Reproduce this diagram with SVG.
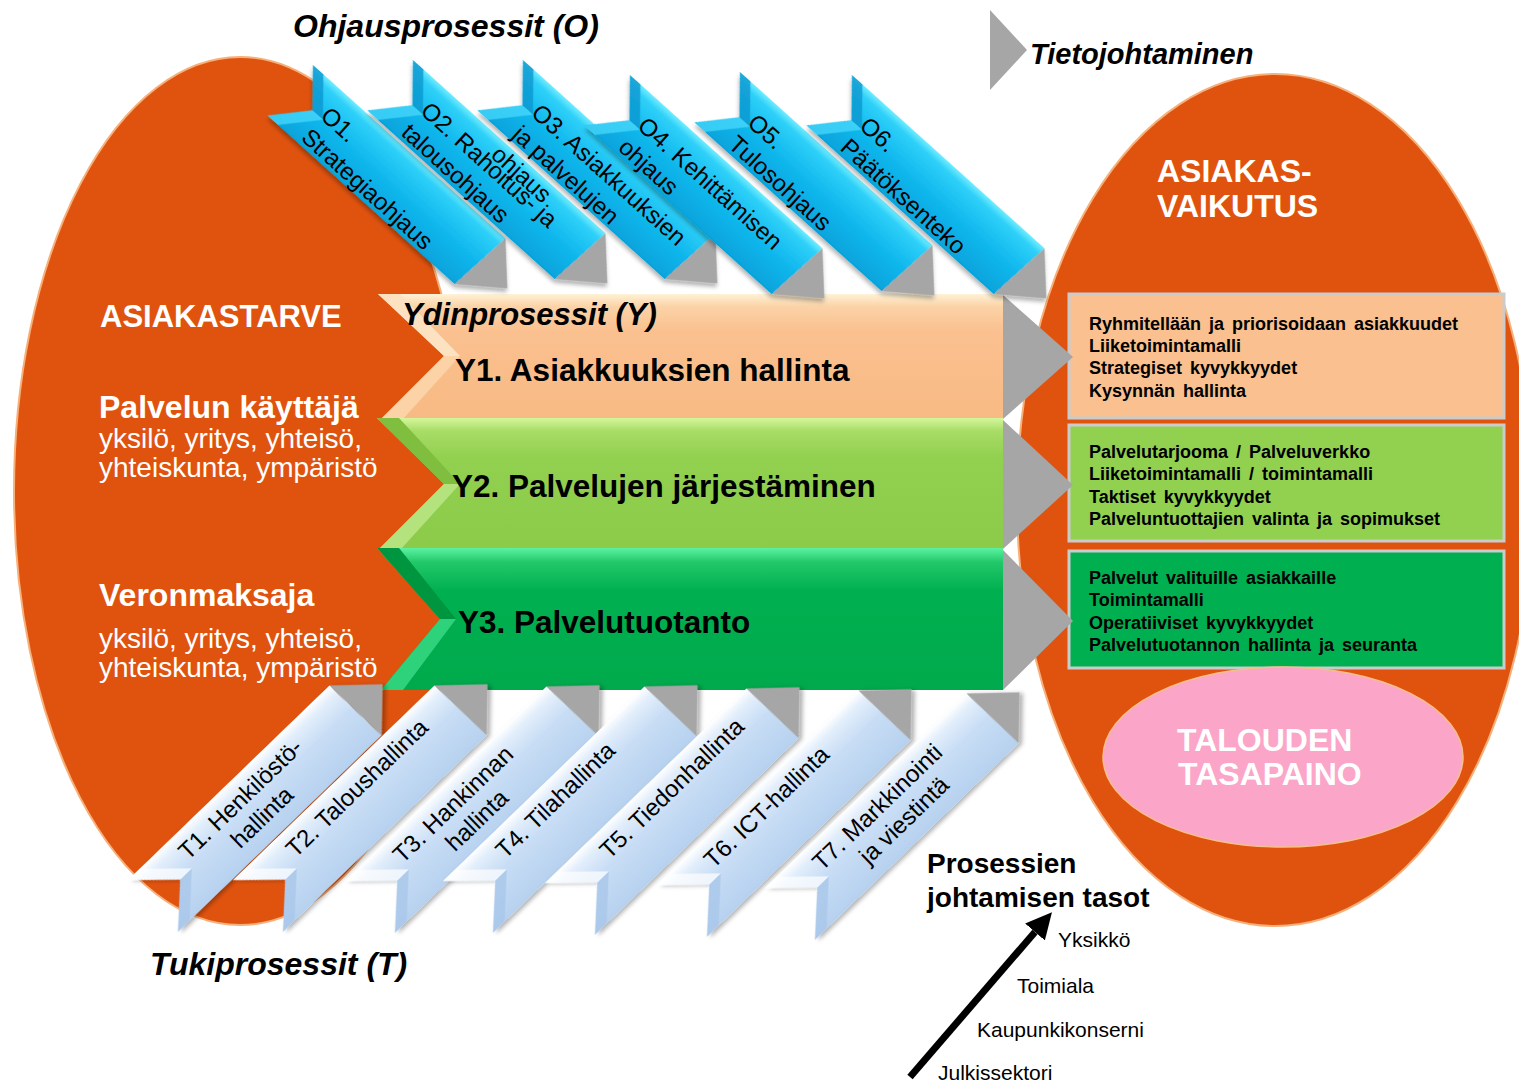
<svg xmlns="http://www.w3.org/2000/svg" width="1519" height="1082" viewBox="0 0 1519 1082">
<defs>
<style>
text{font-family:"Liberation Sans",Arial,sans-serif}
.ttl{font-size:31px;font-weight:bold;font-style:italic;fill:#000}
.wb{font-size:32px;font-weight:bold;fill:#fff}
.wr{font-size:28px;fill:#fff}
.yt{font-size:31.5px;font-weight:bold;fill:#000}
.bx{font-size:18px;font-weight:bold;fill:#000}
.ot{font-size:24px;fill:#000}
.tt{font-size:24px;fill:#000;text-anchor:middle}
.lv{font-size:21px;fill:#000}
.pj{font-size:28px;font-weight:bold;fill:#000}
.blob{fill:#E0530F;stroke:#F6B07A;stroke-width:2}
.tipg{fill:#A6A6A6}
.box{stroke:#CBCBCB;stroke-width:3}
</style>
<linearGradient id="gO" x1="0" y1="0" x2="0" y2="1">
<stop offset="0" stop-color="#6FECFF"/>
<stop offset="0.12" stop-color="#2ED0F8"/>
<stop offset="0.5" stop-color="#12B9EE"/>
<stop offset="1" stop-color="#06A3DC"/>
</linearGradient>
<linearGradient id="gT" x1="0" y1="0" x2="0" y2="1">
<stop offset="0" stop-color="#FFFFFF"/>
<stop offset="0.15" stop-color="#E2EEFB"/>
<stop offset="0.45" stop-color="#C8DDF5"/>
<stop offset="1" stop-color="#B6D1EF"/>
</linearGradient>
<linearGradient id="gY1" x1="0" y1="0" x2="0" y2="1">
<stop offset="0" stop-color="#FFF2D6"/>
<stop offset="0.1" stop-color="#FBD3A7"/>
<stop offset="0.3" stop-color="#FAC08F"/>
<stop offset="1" stop-color="#F8BA84"/>
</linearGradient>
<linearGradient id="gY2" x1="0" y1="0" x2="0" y2="1">
<stop offset="0" stop-color="#D4F79C"/>
<stop offset="0.1" stop-color="#A8DC66"/>
<stop offset="0.3" stop-color="#92D050"/>
<stop offset="1" stop-color="#8CCB4A"/>
</linearGradient>
<linearGradient id="gY3" x1="0" y1="0" x2="0" y2="1">
<stop offset="0" stop-color="#5CF2A2"/>
<stop offset="0.1" stop-color="#22C86A"/>
<stop offset="0.3" stop-color="#00B050"/>
<stop offset="1" stop-color="#00AA4C"/>
</linearGradient>
<filter id="sh" x="-10%" y="-20%" width="130%" height="150%">
<feDropShadow dx="2" dy="3" stdDeviation="2" flood-color="#000" flood-opacity="0.3"/>
</filter>
<marker id="ah" viewBox="0 0 10 10" refX="0" refY="5" markerWidth="26" markerHeight="26" markerUnits="userSpaceOnUse" orient="auto">
<path d="M0,0 L10,5 L0,10 z" fill="#000"/>
</marker>
<!-- control process banner, drawn along local x axis -->
<g id="oShape">
<polygon points="0,0 259,0 252,68 0,68 30,34" fill="url(#gO)"/>
<polygon points="0,0 14,0 44,34 30,34" fill="#0C97CF" opacity="0.8"/>
<polygon points="30,34 44,34 14,68 0,68" fill="#45D6FA" opacity="0.8"/>
<polygon points="259,0 294,36 252,68" class="tipg"/>
</g>
<!-- support process banner -->
<g id="tShape">
<polygon points="0,0 280,0 283,72 0,72 38,36" fill="url(#gT)"/>
<polygon points="0,0 16,0 54,36 38,36" fill="#FFFFFF" opacity="0.7"/>
<polygon points="38,36 54,36 16,72 0,72" fill="#A9C7EA" opacity="0.8"/>
<polygon points="280,0 319,36 283,72" class="tipg"/>
</g>
</defs>

<rect width="1519" height="1082" fill="#fff"/>

<!-- customer need -->
<g id="asiakastarve">
<ellipse class="blob" cx="240" cy="491" rx="226" ry="434"/>
<text class="wb" x="100" y="327" style="font-size:31px">ASIAKASTARVE</text>
<text class="wb" x="99" y="418">Palvelun käyttäjä</text>
<text class="wr"><tspan x="99" y="448">yksilö, yritys, yhteisö,</tspan><tspan x="99" y="477">yhteiskunta, ympäristö</tspan></text>
<text class="wb" x="99" y="606">Veronmaksaja</text>
<text class="wr"><tspan x="99" y="648">yksilö, yritys, yhteisö,</tspan><tspan x="99" y="677">yhteiskunta, ympäristö</tspan></text>
</g>

<!-- customer impact -->
<g id="asiakasvaikutus">
<ellipse class="blob" cx="1275" cy="500" rx="258" ry="426"/>
<text class="wb"><tspan x="1157" y="182">ASIAKAS-</tspan><tspan x="1157" y="217">VAIKUTUS</tspan></text>
</g>

<g id="r1">
<rect class="box" x="1069" y="294" width="435" height="124" fill="#FAC08F"/>
<text class="bx" word-spacing="3"><tspan x="1089" y="330">Ryhmitellään ja priorisoidaan asiakkuudet</tspan><tspan x="1089" y="352">Liiketoimintamalli</tspan><tspan x="1089" y="374">Strategiset kyvykkyydet</tspan><tspan x="1089" y="397">Kysynnän hallinta</tspan></text>
</g>
<g id="r2">
<rect class="box" x="1069" y="425" width="435" height="116" fill="#92D050"/>
<text class="bx" word-spacing="3"><tspan x="1089" y="458">Palvelutarjooma / Palveluverkko</tspan><tspan x="1089" y="480">Liiketoimintamalli / toimintamalli</tspan><tspan x="1089" y="503">Taktiset kyvykkyydet</tspan><tspan x="1089" y="525">Palveluntuottajien valinta ja sopimukset</tspan></text>
</g>
<g id="r3">
<rect class="box" x="1069" y="551" width="435" height="117" fill="#00B050"/>
<text class="bx" word-spacing="3"><tspan x="1089" y="584">Palvelut valituille asiakkaille</tspan><tspan x="1089" y="606">Toimintamalli</tspan><tspan x="1089" y="629">Operatiiviset kyvykkyydet</tspan><tspan x="1089" y="651">Palvelutuotannon hallinta ja seuranta</tspan></text>
</g>

<g id="talouden-tasapaino">
<ellipse cx="1283" cy="757" rx="180" ry="90" fill="#FBA5C8" stroke="#F7C08A" stroke-width="1.5"/>
<text class="wb"><tspan x="1177" y="751">TALOUDEN</tspan><tspan x="1178" y="785">TASAPAINO</tspan></text>
</g>

<!-- core processes -->
<g id="y1">
<polygon points="378,294 1003,294 1003,419 381,419 444,356" fill="url(#gY1)"/>
<polygon points="378,294 400,294 460,356 444,356" fill="#FDE2C2"/>
<polygon points="444,356 460,356 403,419 381,419" fill="#FCD3A6"/>
<polygon class="tipg" points="1003,295 1073,357 1003,419"/>
<text class="yt" x="455" y="381">Y1. Asiakkuuksien hallinta</text>
</g>
<g id="y2">
<polygon points="377,418 1003,418 1003,549 379,549 444,484" fill="url(#gY2)"/>
<polygon points="377,418 399,418 460,484 444,484" fill="#80BE3F"/>
<polygon points="444,484 460,484 401,549 379,549" fill="#B4E27C"/>
<polygon class="tipg" points="1003,420 1073,485 1003,549"/>
<text class="yt" x="452" y="497">Y2. Palvelujen järjestäminen</text>
</g>
<g id="y3">
<polygon points="377,548 1003,548 1003,690 381,690 440,619" fill="url(#gY3)"/>
<polygon points="377,548 399,548 456,619 440,619" fill="#00963F"/>
<polygon points="440,619 456,619 403,690 381,690" fill="#2ED27A"/>
<polygon class="tipg" points="1003,550 1073,621 1003,690"/>
<text class="yt" x="458" y="633">Y3. Palvelutuotanto</text>
</g>
<text class="ttl" x="402" y="325">Ydinprosessit (Y)</text>

<!-- control processes -->
<g id="o1" transform="translate(313,65) rotate(42)">
<use href="#oShape" filter="url(#sh)"/>
<text class="ot"><tspan x="40" y="35">O1.</tspan><tspan x="40" y="64">Strategiaohjaus</tspan></text>
</g>
<g id="o2" transform="translate(413,60) rotate(42)">
<use href="#oShape" filter="url(#sh)"/>
<text class="ot"><tspan x="40" y="35">O2. Rahoitus- ja</tspan><tspan x="40" y="64">talousohjaus</tspan></text>
</g>
<g id="o3" transform="translate(523,60) rotate(42)">
<use href="#oShape" filter="url(#sh)"/>
<text class="ot"><tspan x="42" y="36">O3. Asiakkuuksien</tspan><tspan x="42" y="65">ja palvelujen</tspan><tspan x="40" y="94">ohjaus</tspan></text>
</g>
<g id="o4" transform="translate(630,75) rotate(42)">
<use href="#oShape" filter="url(#sh)"/>
<text class="ot"><tspan x="40" y="35">O4. Kehittämisen</tspan><tspan x="40" y="64">ohjaus</tspan></text>
</g>
<g id="o5" transform="translate(740,72) rotate(42)">
<use href="#oShape" filter="url(#sh)"/>
<text class="ot"><tspan x="40" y="35">O5.</tspan><tspan x="40" y="64">Tulosohjaus</tspan></text>
</g>
<g id="o6" transform="translate(852,75) rotate(42)">
<use href="#oShape" filter="url(#sh)"/>
<text class="ot"><tspan x="40" y="35">O6.</tspan><tspan x="40" y="64">Päätöksenteko</tspan></text>
</g>

<!-- support processes -->
<g id="t1" transform="translate(128,880) rotate(-44)">
<use href="#tShape" filter="url(#sh)"/>
<text class="tt"><tspan x="137" y="28">T1. Henkilöstö-</tspan><tspan x="140" y="56">hallinta</tspan></text>
</g>
<g id="t2" transform="translate(233,880) rotate(-44)">
<use href="#tShape" filter="url(#sh)"/>
<text class="tt" x="153" y="28">T2. Taloushallinta</text>
</g>
<g id="t3" transform="translate(345,881) rotate(-44)">
<use href="#tShape" filter="url(#sh)"/>
<text class="tt"><tspan x="131" y="28">T3. Hankinnan</tspan><tspan x="137" y="56">hallinta</tspan></text>
</g>
<g id="t4" transform="translate(443,881) rotate(-44)">
<use href="#tShape" filter="url(#sh)"/>
<text class="tt" x="137" y="28">T4. Tilahallinta</text>
</g>
<g id="t5" transform="translate(545,883) rotate(-44)">
<use href="#tShape" filter="url(#sh)"/>
<text class="tt" x="157" y="28">T5. Tiedonhallinta</text>
</g>
<g id="t6" transform="translate(657,885) rotate(-44)">
<use href="#tShape" filter="url(#sh)"/>
<text class="tt" x="133" y="28">T6. ICT-hallinta</text>
</g>
<g id="t7" transform="translate(765,888) rotate(-44)">
<use href="#tShape" filter="url(#sh)"/>
<text class="tt"><tspan x="137" y="28">T7. Markkinointi</tspan><tspan x="147" y="56">ja viestintä</tspan></text>
</g>

<!-- headings -->
<text class="ttl" x="293" y="37" style="font-size:32px">Ohjausprosessit (O)</text>
<text class="ttl" x="150" y="975" style="font-size:32px">Tukiprosessit (T)</text>

<g id="tietojohtaminen">
<polygon points="990,10 1027,50 990,90" class="tipg"/>
<text class="ttl" x="1030" y="64" style="font-size:29px">Tietojohtaminen</text>
</g>

<g id="johtamisen-tasot">
<text class="pj"><tspan x="927" y="873">Prosessien</tspan><tspan x="927" y="907">johtamisen tasot</tspan></text>
<text class="lv" x="1058" y="947">Yksikkö</text>
<text class="lv" x="1017" y="993">Toimiala</text>
<text class="lv" x="977" y="1037">Kaupunkikonserni</text>
<text class="lv" x="938" y="1080">Julkissektori</text>
</g>

<g id="connectors">
<path d="M910,1077 L1035,932" stroke="#000" stroke-width="7" fill="none" marker-end="url(#ah)"/>
</g>
</svg>
